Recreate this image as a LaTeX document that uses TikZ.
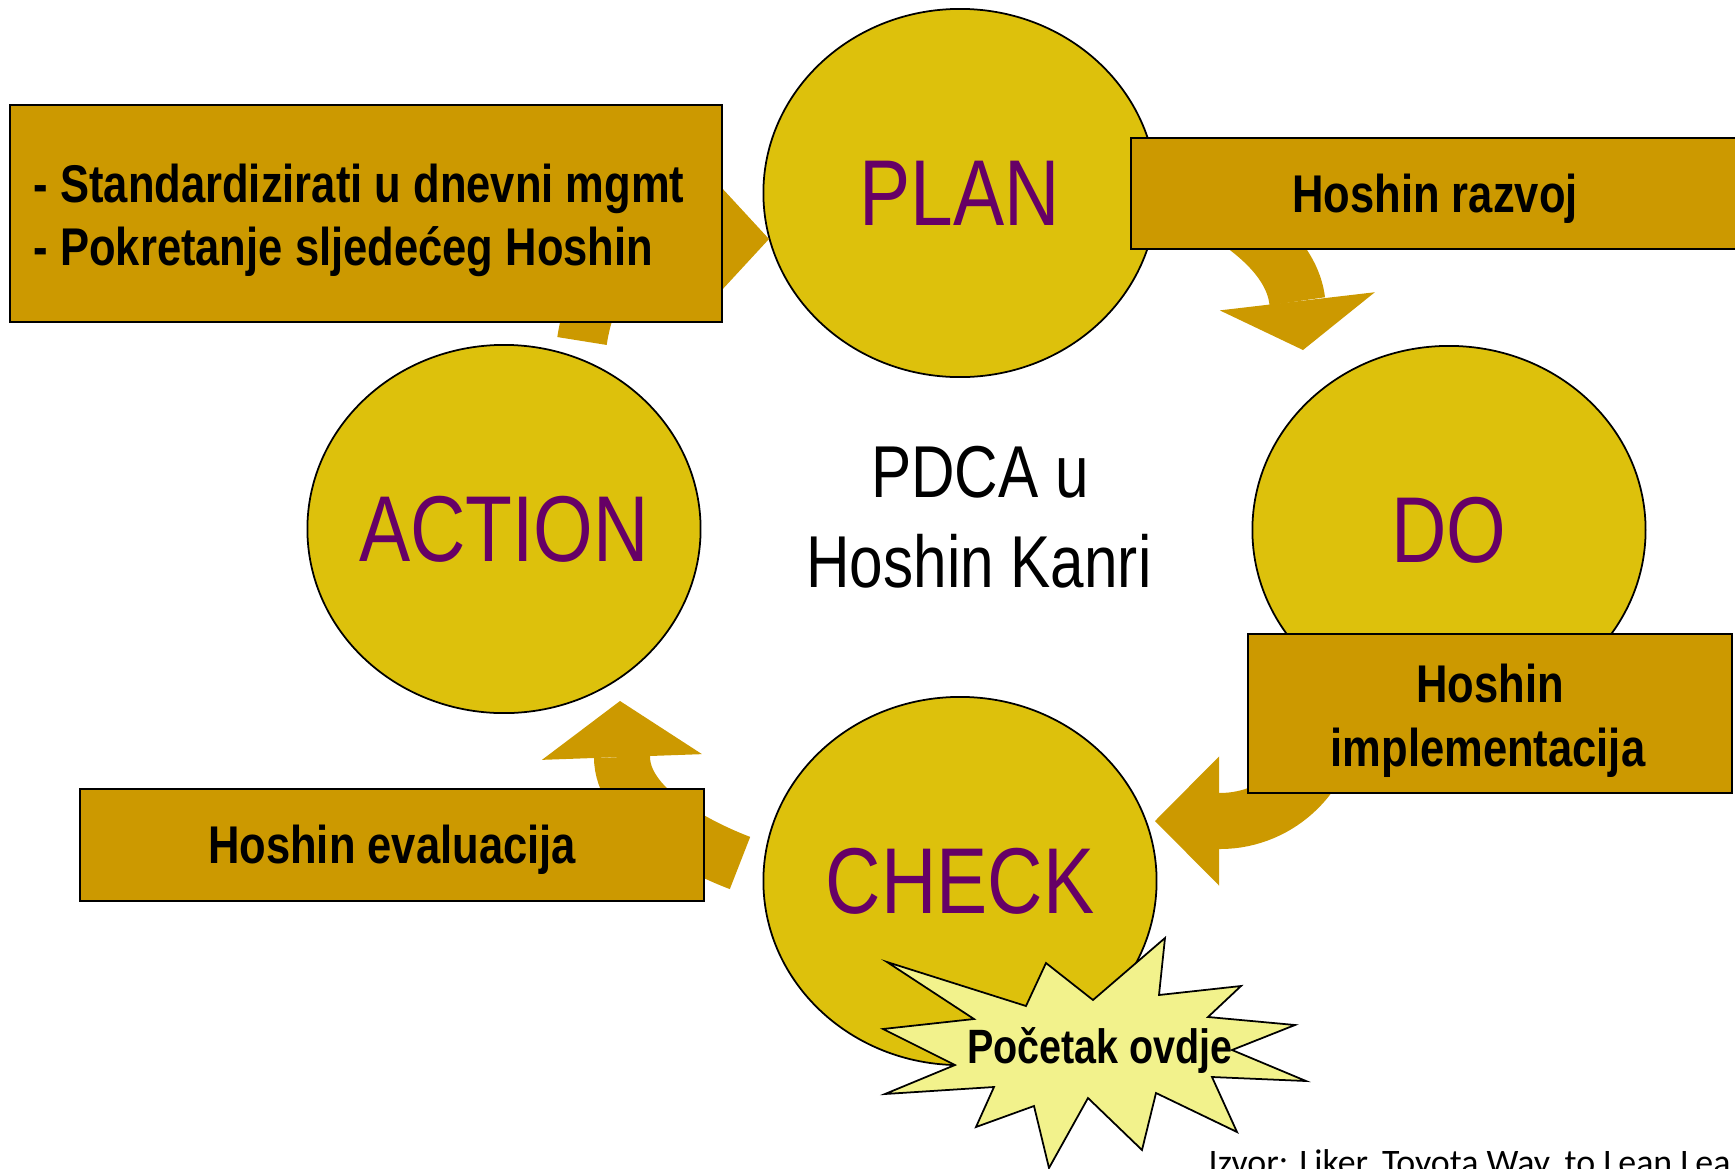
\documentclass[tikz,border=0pt]{standalone}
\usepackage{fontspec}
\setmainfont{Liberation Sans}[FakeStretch=0.82]
\newfontfamily\sourcefont{Carlito}
\usetikzlibrary{shapes.geometric, arrows.meta}

\definecolor{bubblefill}{RGB}{221,193,12}
\definecolor{boxgold}{RGB}{204,153,0}
\definecolor{labelpurple}{RGB}{102,0,102}
\definecolor{burstfill}{RGB}{242,242,140}

\tikzset{
  bubble/.style = {shape = ellipse, draw, line width = 0.5pt, fill = bubblefill,
                   minimum width = 3.93cm, minimum height = 3.68cm, inner sep = 0pt},
  bubbletext/.style = {text = labelpurple, inner sep = 0pt,
                       font = \fontsize{26.6}{32}\selectfont},
  stepbox/.style = {shape = rectangle, draw, line width = 0.7pt, fill = boxgold,
                    inner sep = 0pt, text height = 0.48cm, text depth = 0.11cm,
                    font = \fontsize{15.1}{18}\selectfont\bfseries},
  steptext/.style = {inner sep = 0pt, anchor = base,
                     font = \fontsize{15.1}{18}\selectfont\bfseries},
  titletext/.style = {inner sep = 0pt, anchor = base,
                      font = \fontsize{20.9}{25}\selectfont},
  flow/.style = {draw = boxgold, line width = 5.6mm},
  burst/.style = {draw, line width = 0.5pt, fill = burstfill}
}

\begin{document}
\begin{tikzpicture}[x = 0.01cm, y = -0.01cm]
      \useasboundingbox (0, 0) rectangle (1735, 1169);
      \clip (0, 0) rectangle (1735, 1169);

      \node [bubble, label = {[bubbletext]center:PLAN}]   (plan)   at (960, 193) {};
      \node [bubble, label = {[bubbletext]center:DO}]     (do)     at (1449, 530) {};
      \node [bubble, label = {[bubbletext]center:CHECK}]  (check)  at (960, 881) {};
      \node [bubble, label = {[bubbletext]center:ACTION}] (action) at (504, 529) {};

      \coordinate (pd-tail) at (1195, 195);
      \coordinate (pd-tip)  at (1303, 350);
      \coordinate (dc-tail) at (1331, 690);
      \coordinate (dc-tip)  at (1155, 821);
      \coordinate (ca-tail) at (740, 863);
      \coordinate (ca-tip)  at (620, 701);
      \coordinate (ap-tail) at (582, 341);
      \coordinate (ap-tip)  at (769, 239);
      \draw [flow, -{Triangle[width = 15.6mm, length = 4.9mm, line width = 0pt]}]
            (pd-tail) .. controls (1245, 222) and (1292, 256) .. (pd-tip);
      \draw [flow, -{Triangle[width = 12.9mm, length = 6.4mm, line width = 0pt]}]
            (dc-tail) -- (1331, 710) .. controls (1331, 771) and (1281, 821) .. (1220, 821) -- (dc-tip);
      \draw [flow, -{Triangle[width = 16mm, length = 5.6mm, line width = 0pt]}]
            (ca-tail) .. controls (693, 845) and (622, 807) .. (622, 757) -- (ca-tip);
      \draw [flow, line width = 5mm, -{Triangle[width = 13mm, length = 6mm, line width = 0pt]}]
            (ap-tail) .. controls (594, 262) and (640, 239) .. (ap-tip);

      \node [stepbox, minimum width = 7.12cm, minimum height = 2.17cm] (adjust) at (366, 213.5) {};
      \node [steptext, anchor = base west] (adjust1) at (33, 202) {- Standardizirati u dnevni mgmt};
      \node [steptext, anchor = base west] (adjust2) at (33, 265) {- Pokretanje sljedećeg Hoshin};

      \node [stepbox, minimum width = 6.08cm, minimum height = 1.11cm] (deploy) at (1435, 193.5) {Hoshin razvoj};

      \node [stepbox, minimum width = 4.84cm, minimum height = 1.59cm] (implement) at (1490, 713.5) {};
      \node [steptext] (implement1) at (1490, 702) {Hoshin};
      \node [steptext] (implement2) at (1488, 766) {implementacija};

      \node [stepbox, minimum width = 6.24cm, minimum height = 1.12cm] (evaluate) at (392, 845) {Hoshin evaluacija};

      \node [titletext] (title1) at (980, 497) {PDCA u};
      \node [titletext] (title2) at (979, 587) {Hoshin Kanri};

      \draw [burst] (887, 962) -- (1026, 1006) -- (1046, 963) -- (1093, 1000)
            -- (1165, 938) -- (1159, 995) -- (1241, 986) -- (1208, 1017)
            -- (1295, 1025) -- (1232, 1050) -- (1306, 1081) -- (1212, 1077)
            -- (1237, 1132) -- (1156, 1093) -- (1142, 1150) -- (1088, 1098)
            -- (1049, 1168) -- (1034, 1106) -- (976, 1127) -- (994, 1087)
            -- (885, 1094) -- (955, 1065) -- (883, 1029) -- (974, 1019) -- cycle;
      \node [steptext, font = \fontsize{13.7}{16}\selectfont\bfseries] (start) at (1100, 1063) {Početak ovdje};

      \node [anchor = base west, inner sep = 0pt, font = \sourcefont\fontsize{10.2}{12}\selectfont]
            (source) at (1208, 1174) {Izvor: Liker, Toyota Way, to Lean Lea};
    \end{tikzpicture}
\end{document}
